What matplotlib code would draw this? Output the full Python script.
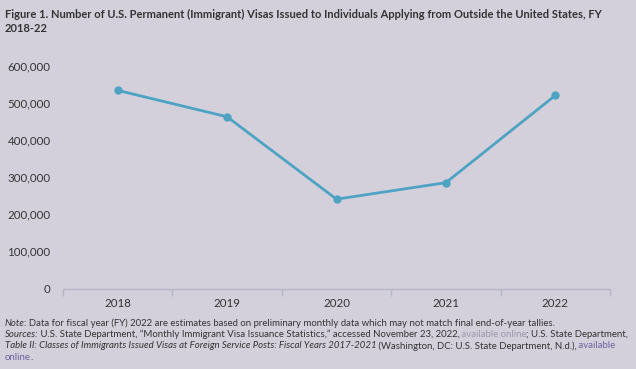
import matplotlib
matplotlib.use("Agg")
import matplotlib.pyplot as plt
from matplotlib.ticker import FuncFormatter, FixedLocator

plt.rcParams['font.family'] = ['Lato', 'DejaVu Sans']

years = ["2018", "2019", "2020", "2021", "2022"]
visas = [533557, 462422, 240526, 285069, 520000]
y_ticks = [0, 100000, 200000, 300000, 400000, 500000, 600000]

bg = "#d3d0dc"
line_col = "#4ea3c3"
txt = "#333333"
axis_col = "#b9b6c6"

fig = plt.figure(figsize=(6.36, 3.69), dpi=100, facecolor=bg)
ax = fig.add_axes([63/636, 1-288.5/369, (610-63)/636, (288.5-65.7)/369])
ax.set_facecolor(bg)

x = list(range(len(years)))
ax.plot(x, visas, color=line_col, lw=2.0, marker="o", ms=5, clip_on=False, zorder=3)

ax.set_xlim(-0.5, len(years) - 0.5)
ax.set_ylim(0, 600000)
ax.set_yticks(y_ticks)
ax.yaxis.set_major_formatter(FuncFormatter(lambda v, p: f"{int(v):,}"))
ax.set_xticks(x)
ax.set_xticklabels(years)
ax.xaxis.set_minor_locator(FixedLocator([i - 0.5 for i in range(len(years) + 1)]))

for s in ["top", "right", "left"]:
    ax.spines[s].set_visible(False)
ax.spines["bottom"].set_color(axis_col)
ax.spines["bottom"].set_linewidth(1.0)

ax.tick_params(axis="y", length=0, pad=9, labelsize=8.3, labelcolor=txt)
ax.tick_params(axis="x", which="major", length=0, pad=7, labelsize=8.3, labelcolor=txt)
ax.tick_params(axis="x", which="minor", length=5, width=1, color=axis_col)

fig.text(5/636, 1-14/369, "Figure 1. Number of U.S. Permanent (Immigrant) Visas Issued to Individuals Applying from Outside the United States, FY",
         fontsize=8.0, fontweight="bold", color=txt, va="center", ha="left")
fig.text(5/636, 1-28/369, "2018-22", fontsize=8.0, fontweight="bold", color=txt, va="center", ha="left")

fs = 6.95
light = "#9b98ad"
purple = "#6d619e"

def line_parts(y, parts):
    # draw pieces of one line one after the other
    xpos = 5
    r = fig.canvas.get_renderer()
    for s, style, col in parts:
        t = fig.text(xpos/636, 1-y/369, s, fontsize=fs, style=style, color=col, va="center", ha="left")
        bb = t.get_window_extent(renderer=r)
        xpos += bb.width - 0.5

line_parts(323, [("Note", "italic", txt),
                 (": Data for fiscal year (FY) 2022 are estimates based on preliminary monthly data which may not match final end-of-year tallies.", "normal", txt)])
line_parts(334.5, [("Sources:", "italic", txt),
                   (" U.S. State Department, \u201cMonthly Immigrant Visa Issuance Statistics,\u201d accessed November 23, 2022,", "normal", txt),
                   (" available online", "normal", light),
                   ("; U.S. State Department,", "normal", txt)])
line_parts(346, [("Table II: Classes of Immigrants Issued Visas at Foreign Service Posts: Fiscal Years 2017-2021", "italic", txt),
                 (" (Washington, DC: U.S. State Department, N.d.),", "normal", txt),
                 (" available", "normal", purple)])
line_parts(358, [("online", "normal", purple), (".", "normal", txt)])

fig.savefig("out.png", dpi=100, facecolor=bg)
